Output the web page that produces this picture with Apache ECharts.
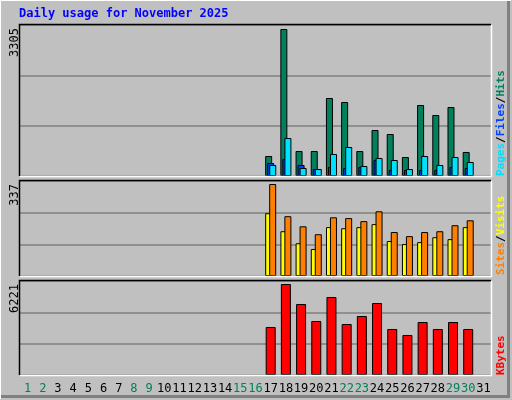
<!DOCTYPE html>
<html><head><meta charset="utf-8">
<script src="https://cdn.jsdelivr.net/npm/echarts@6/dist/echarts.min.js"></script>
<style>html,body{margin:0;padding:0;background:#c0c0c0}#c{width:512px;height:400px}</style>
</head><body><div id="c"></div>
<script>
const days = Array.from({length:31},(_,i)=>String(i+1));
const weekend = ['1','2','8','9','15','16','22','23','29','30'];
const N = null;
const pad16 = [N,N,N,N,N,N,N,N,N,N,N,N,N,N,N,N];
const hits   = [...pad16, 450,3305,562,562,1754,1664,562,1034,944,427,1596,1371,1551,540, N];
const files  = [...pad16, 292,382,247,157,202,180,202,360,135,135,135,135,202,180, N];
const pages  = [...pad16, 247,854,180,157,495,652,225,405,360,157,450,247,427,315, N];
const sites  = [...pad16, 230,164,120,99,179,175,179,190,128,117,124,142,135,179, N];
const visits = [...pad16, 337,219,182,153,215,212,201,237,161,146,161,164,186,204, N];
const kbytes = [...pad16, 3282,6221,4854,3692,5333,3487,4034,4922,3145,2735,3623,3145,3623,3145, N];
const maxLabels = ['3305','337','6221'];

const F = 'DejaVu Sans Mono';
const panels = [{top:25,h:151,max:3305*151/147},{top:181,h:95,max:337*95/92},{top:281,h:94,max:6221*94/91}];
const L=20, R=491;
const grids = panels.map(p=>({left:L,width:R-L,top:p.top,height:p.h}));
const xAxes = panels.map((p,i)=>({type:'category',gridIndex:i,data:days,
  axisLine:{show:false},axisTick:{show:false},
  axisLabel:{show:i===2,interval:0,margin:8,fontFamily:F,fontSize:12,
    formatter:v=>weekend.includes(v)?'{w|'+v+'}':'{d|'+v+'}',
    rich:{w:{color:'#00805c',fontFamily:F,fontSize:12},d:{color:'#000',fontFamily:F,fontSize:12}}}}));
const yAxes = panels.map((p,i)=>({type:'value',gridIndex:i,min:0,max:p.max,interval:p.max/3,
  axisLabel:{show:false},axisLine:{show:false},axisTick:{show:false},
  splitLine:{lineStyle:{color:'#808080',width:1.5}}}));
const bs = {borderColor:'#000',borderWidth:1};
const series = [
  {type:'bar',xAxisIndex:0,yAxisIndex:0,data:hits,barWidth:7,barGap:'-71%',itemStyle:{color:'#00805c',...bs}},
  {type:'bar',xAxisIndex:0,yAxisIndex:0,data:files,barWidth:7,barGap:'-71%',itemStyle:{color:'#0040ff',...bs}},
  {type:'bar',xAxisIndex:0,yAxisIndex:0,data:pages,barWidth:7,barGap:'-71%',itemStyle:{color:'#00e0ff',...bs}},
  {type:'bar',xAxisIndex:1,yAxisIndex:1,data:sites,barWidth:7,barGap:'-43%',itemStyle:{color:'#ffff00',...bs}},
  {type:'bar',xAxisIndex:1,yAxisIndex:1,data:visits,barWidth:7,barGap:'-43%',itemStyle:{color:'#ff8000',...bs}},
  {type:'bar',xAxisIndex:2,yAxisIndex:2,data:kbytes,barWidth:10,itemStyle:{color:'#ff0000',...bs}}
];
const g = [
  {type:'rect',shape:{x:0,y:0,width:512,height:400},style:{fill:'#c0c0c0'},z:-10},
  {type:'polyline',shape:{points:[[0.5,399],[0.5,0.5],[511,0.5]]},style:{stroke:'#fff',lineWidth:1,fill:null},z:-5},
  {type:'polyline',shape:{points:[[1,396.5],[508.5,396.5],[508.5,1]]},style:{stroke:'#808080',lineWidth:3,fill:null},z:-5},
  {type:'text',left:19,top:8,style:{text:'Daily usage for November 2025',fill:'#0000ff',font:'bold 12px "DejaVu Sans Mono"'}}
];
panels.forEach((p,i)=>{
  g.push({type:'polyline',shape:{points:[[L-0.5,p.top+p.h],[L-0.5,p.top-0.5],[R,p.top-0.5]]},style:{stroke:'#000',lineWidth:1.5,fill:null},z:5});
  g.push({type:'polyline',shape:{points:[[L,p.top+p.h+0.5],[R+0.5,p.top+p.h+0.5],[R+0.5,p.top]]},style:{stroke:'#fff',lineWidth:1.5,fill:null},z:5});
  g.push({type:'text',x:15,y:p.top+3,rotation:Math.PI/2,style:{text:maxLabels[i],fill:'#000',font:'12px "DejaVu Sans Mono"',align:'right',verticalAlign:'middle'}});
});
const rl = (y,parts)=>({type:'text',x:501,y:y,rotation:Math.PI/2,style:{
  text:parts.map(p=>'{'+p[0]+'|'+p[1]+'}').join(''),align:'left',verticalAlign:'middle',
  font:'bold 11px "DejaVu Sans Mono"',
  rich:{c:{fill:'#00e0ff',font:'bold 11px "DejaVu Sans Mono"'},b:{fill:'#0040ff',font:'bold 11px "DejaVu Sans Mono"'},
        g:{fill:'#00805c',font:'bold 11px "DejaVu Sans Mono"'},k:{fill:'#000',font:'bold 11px "DejaVu Sans Mono"'},
        o:{fill:'#ff8000',font:'bold 11px "DejaVu Sans Mono"'},y:{fill:'#ffff00',font:'bold 11px "DejaVu Sans Mono"'},
        r:{fill:'#ff0000',font:'bold 11px "DejaVu Sans Mono"'}}}});
g.push(rl(176,[['c','Pages'],['k','/'],['b','Files'],['k','/'],['g','Hits']]));
g.push(rl(275,[['o','Sites'],['k','/'],['y','Visits']]));
g.push(rl(375,[['r','KBytes']]));
const chart = echarts.init(document.getElementById('c'));
chart.setOption({animation:false,backgroundColor:'#c0c0c0',grid:grids,xAxis:xAxes,yAxis:yAxes,series,graphic:g});
</script></body></html>
